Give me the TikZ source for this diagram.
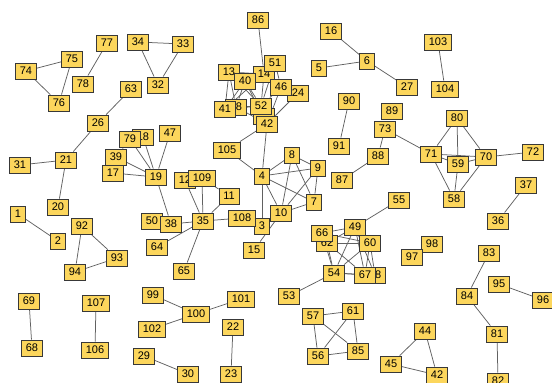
\documentclass[tikz,border=0pt]{standalone}
\usepackage{fontspec}
\setmainfont{Liberation Sans}
\usetikzlibrary{backgrounds}
\definecolor{boxfill}{RGB}{252,214,92}
\tikzset{
  nd/.style={draw=black!78, fill=boxfill, line width=0.9pt, inner xsep=4.3pt, inner ysep=0pt,
    minimum height=16pt, font=\fontsize{11}{12}\selectfont},
  ed/.style={draw=black!62, line width=0.75pt},
}
\begin{document}
\begin{tikzpicture}[x=1pt,y=-1pt]
\useasboundingbox (0,0) rectangle (552,383);
% isolated groups
\node[nd] (n86) at (258,20) {86};
\node[nd] (n16) at (331,31) {16};
\node[nd] (n103) at (438,42) {103};
\node[nd] (n6) at (367,61) {6};
\node[nd] (n5) at (319,68) {5};
\node[nd] (n27) at (407,87) {27};
\node[nd] (n104) at (445,89) {104};
\node[nd] (n77) at (107,43) {77};
\node[nd] (n34) at (138,42) {34};
\node[nd] (n33) at (183,44) {33};
\node[nd] (n75) at (72,59) {75};
\node[nd] (n74) at (26,71) {74};
\node[nd] (n78) at (83,84) {78};
\node[nd] (n76) at (59,103) {76};
\node[nd] (n32) at (158,85) {32};
\node[nd] (n63) at (131,89) {63};
\node[nd] (n26) at (98,123) {26};
\node[nd] (n90) at (349,101) {90};
\node[nd] (n91) at (339,146) {91};
\node[nd] (n89) at (392,111) {89};
\node[nd] (n73) at (385,129) {73};
\node[nd] (n88) at (378,156) {88};
\node[nd] (n87) at (342,180) {87};
\node[nd] (n80) at (457,118) {80};
\node[nd] (n71) at (431,154) {71};
\node[nd] (n59) at (458,164) {59};
\node[nd] (n70) at (486,157) {70};
\node[nd] (n72) at (533,152) {72};
\node[nd] (n58) at (454,199) {58};
\node[nd] (n37) at (526,185) {37};
\node[nd] (n36) at (498,221) {36};
\node[nd] (n31) at (20,165) {31};
\node[nd] (n21) at (66,160) {21};
\node[nd] (n20) at (58,207) {20};
\node[nd] (n1) at (18,214) {1};
\node[nd] (n2) at (58,241) {2};
\node[nd] (n92) at (82,226) {92};
\node[nd] (n93) at (117,258) {93};
\node[nd] (n94) at (75,272) {94};
\node[nd] (n69) at (29,301) {69};
\node[nd] (n68) at (32,348) {68};
\node[nd] (n107) at (96,303) {107};
\node[nd] (n106) at (95,350) {106};
\node[nd] (n99) at (153,295) {99};
\node[nd] (n100) at (196,314) {100};
\node[nd] (n101) at (241,299) {101};
\node[nd] (n102) at (152,329) {102};
\node[nd] (n22) at (233,327) {22};
\node[nd] (n29) at (144,356) {29};
\node[nd] (n30) at (188,374) {30};
\node[nd] (n23) at (231,374) {23};
\node[nd] (n57) at (313,316) {57};
\node[nd] (n61) at (353,311) {61};
\node[nd] (n56) at (318,356) {56};
\node[nd] (n85) at (358,351) {85};
\node[nd] (n44) at (425,331) {44};
\node[nd] (n45) at (391,364) {45};
\node[nd] (n42b) at (437,375) {42};
\node[nd] (n98) at (432,244) {98};
\node[nd] (n97) at (412,257) {97};
\node[nd] (n83) at (489,253) {83};
\node[nd] (n95) at (499,284) {95};
\node[nd] (n96) at (543,300) {96};
\node[nd] (n84) at (467,296) {84};
\node[nd] (n81) at (497,334) {81};
\node[nd] (n82) at (498,381) {82};
% top cluster
\node[nd] (n13) at (229,72) {13};
\node[nd] (n14) at (264,74) {14};
\node[nd] (n51) at (275,63) {51};
\node[nd] (n40) at (245,81) {40};
\node[nd] (n24) at (298,93) {24};
\node[nd] (n46) at (281,87) {46};
\node[nd] (n48) at (236,107) {48};
\node[nd] (n41) at (225,109) {41};
\node[nd, minimum width=21pt] (n43) at (264,116) {};
\node[nd] (n52) at (261,106) {52};
\node[nd] (n42) at (267,124) {42};
% left cluster
\node[nd] (n18) at (143,137) {18};
\node[nd] (n79) at (130,139) {79};
\node[nd] (n47) at (170,133) {47};
\node[nd] (n39) at (116,157) {39};
\node[nd] (n17) at (113,173) {17};
\node[nd] (n19) at (156,177) {19};
\node[nd] (n105) at (227,150) {105};
\node[nd] (n12) at (185,180) {12};
\node[nd] (n109) at (202,178) {109};
\node[nd] (n11) at (229,196) {11};
\node[nd] (n50) at (152,221) {50};
\node[nd] (n38) at (171,224) {38};
\node[nd] (n35) at (203,221) {35};
\node[nd] (n64) at (157,247) {64};
\node[nd] (n65) at (184,271) {65};
% middle cluster
\node[nd] (n8) at (292,155) {8};
\node[nd] (n4) at (262,176) {4};
\node[nd] (n9) at (318,168) {9};
\node[nd] (n7) at (314,202) {7};
\node[nd] (n10) at (281,213) {10};
\node[nd] (n3) at (262,226) {3};
\node[nd] (n108) at (242,218) {108};
\node[nd] (n15) at (254,250) {15};
% right middle cluster
\node[nd] (n55) at (399,200) {55};
\node[nd] (n49) at (355,227) {49};
\node[nd] (n62) at (327,243) {62};
\node[nd] (n66) at (322,233) {66};
\node[nd] (n60) at (370,243) {60};
\node[nd] (n54) at (334,273) {54};
\node[nd] (n28) at (375,275) {28};
\node[nd] (n67) at (365,275) {67};
\node[nd] (n53) at (289,296) {53};

\begin{pgfonlayer}{background}
\fill[white] (0,0) rectangle (552,383);
\foreach \a/\b in {16/6,6/5,6/27,103/104,77/78,34/33,34/32,33/32,74/75,74/76,75/76,
  63/26,26/21,21/31,21/20,1/2,92/93,92/94,93/94,69/68,107/106,99/100,100/101,100/102,
  22/23,29/30,57/61,57/56,57/85,61/56,61/85,56/85,44/45,44/42b,45/42b,98/97,83/84,
  84/81,81/82,95/96,37/36,90/91,73/88,88/87,73/71,80/71,80/59,80/70,71/59,71/70,59/70,
  71/58,59/58,70/58,70/72,
  19/79,19/18,19/47,19/39,19/17,39/79,19/38,38/35,35/12,35/109,109/11,35/11,35/108,
  35/64,35/65,
  4/105,4/42,4/8,4/9,4/7,4/10,4/3,8/9,8/7,8/10,9/7,9/10,10/7,10/15,
  42/105,86/14,13/40,13/52,13/41,13/14,40/41,40/48,40/52,40/14,40/42,14/51,14/52,
  14/46,51/46,51/52,46/24,46/52,46/42,24/42,41/52,48/52,52/42,41/14,48/42,13/48,
  55/49,49/66,49/62,49/60,49/54,49/67,49/28,66/60,62/60,62/54,66/54,54/60,54/67,
  54/28,60/67,60/28,62/67,54/53}
  {\draw[ed] (n\a) -- (n\b);}
\end{pgfonlayer}
\end{tikzpicture}
\end{document}
